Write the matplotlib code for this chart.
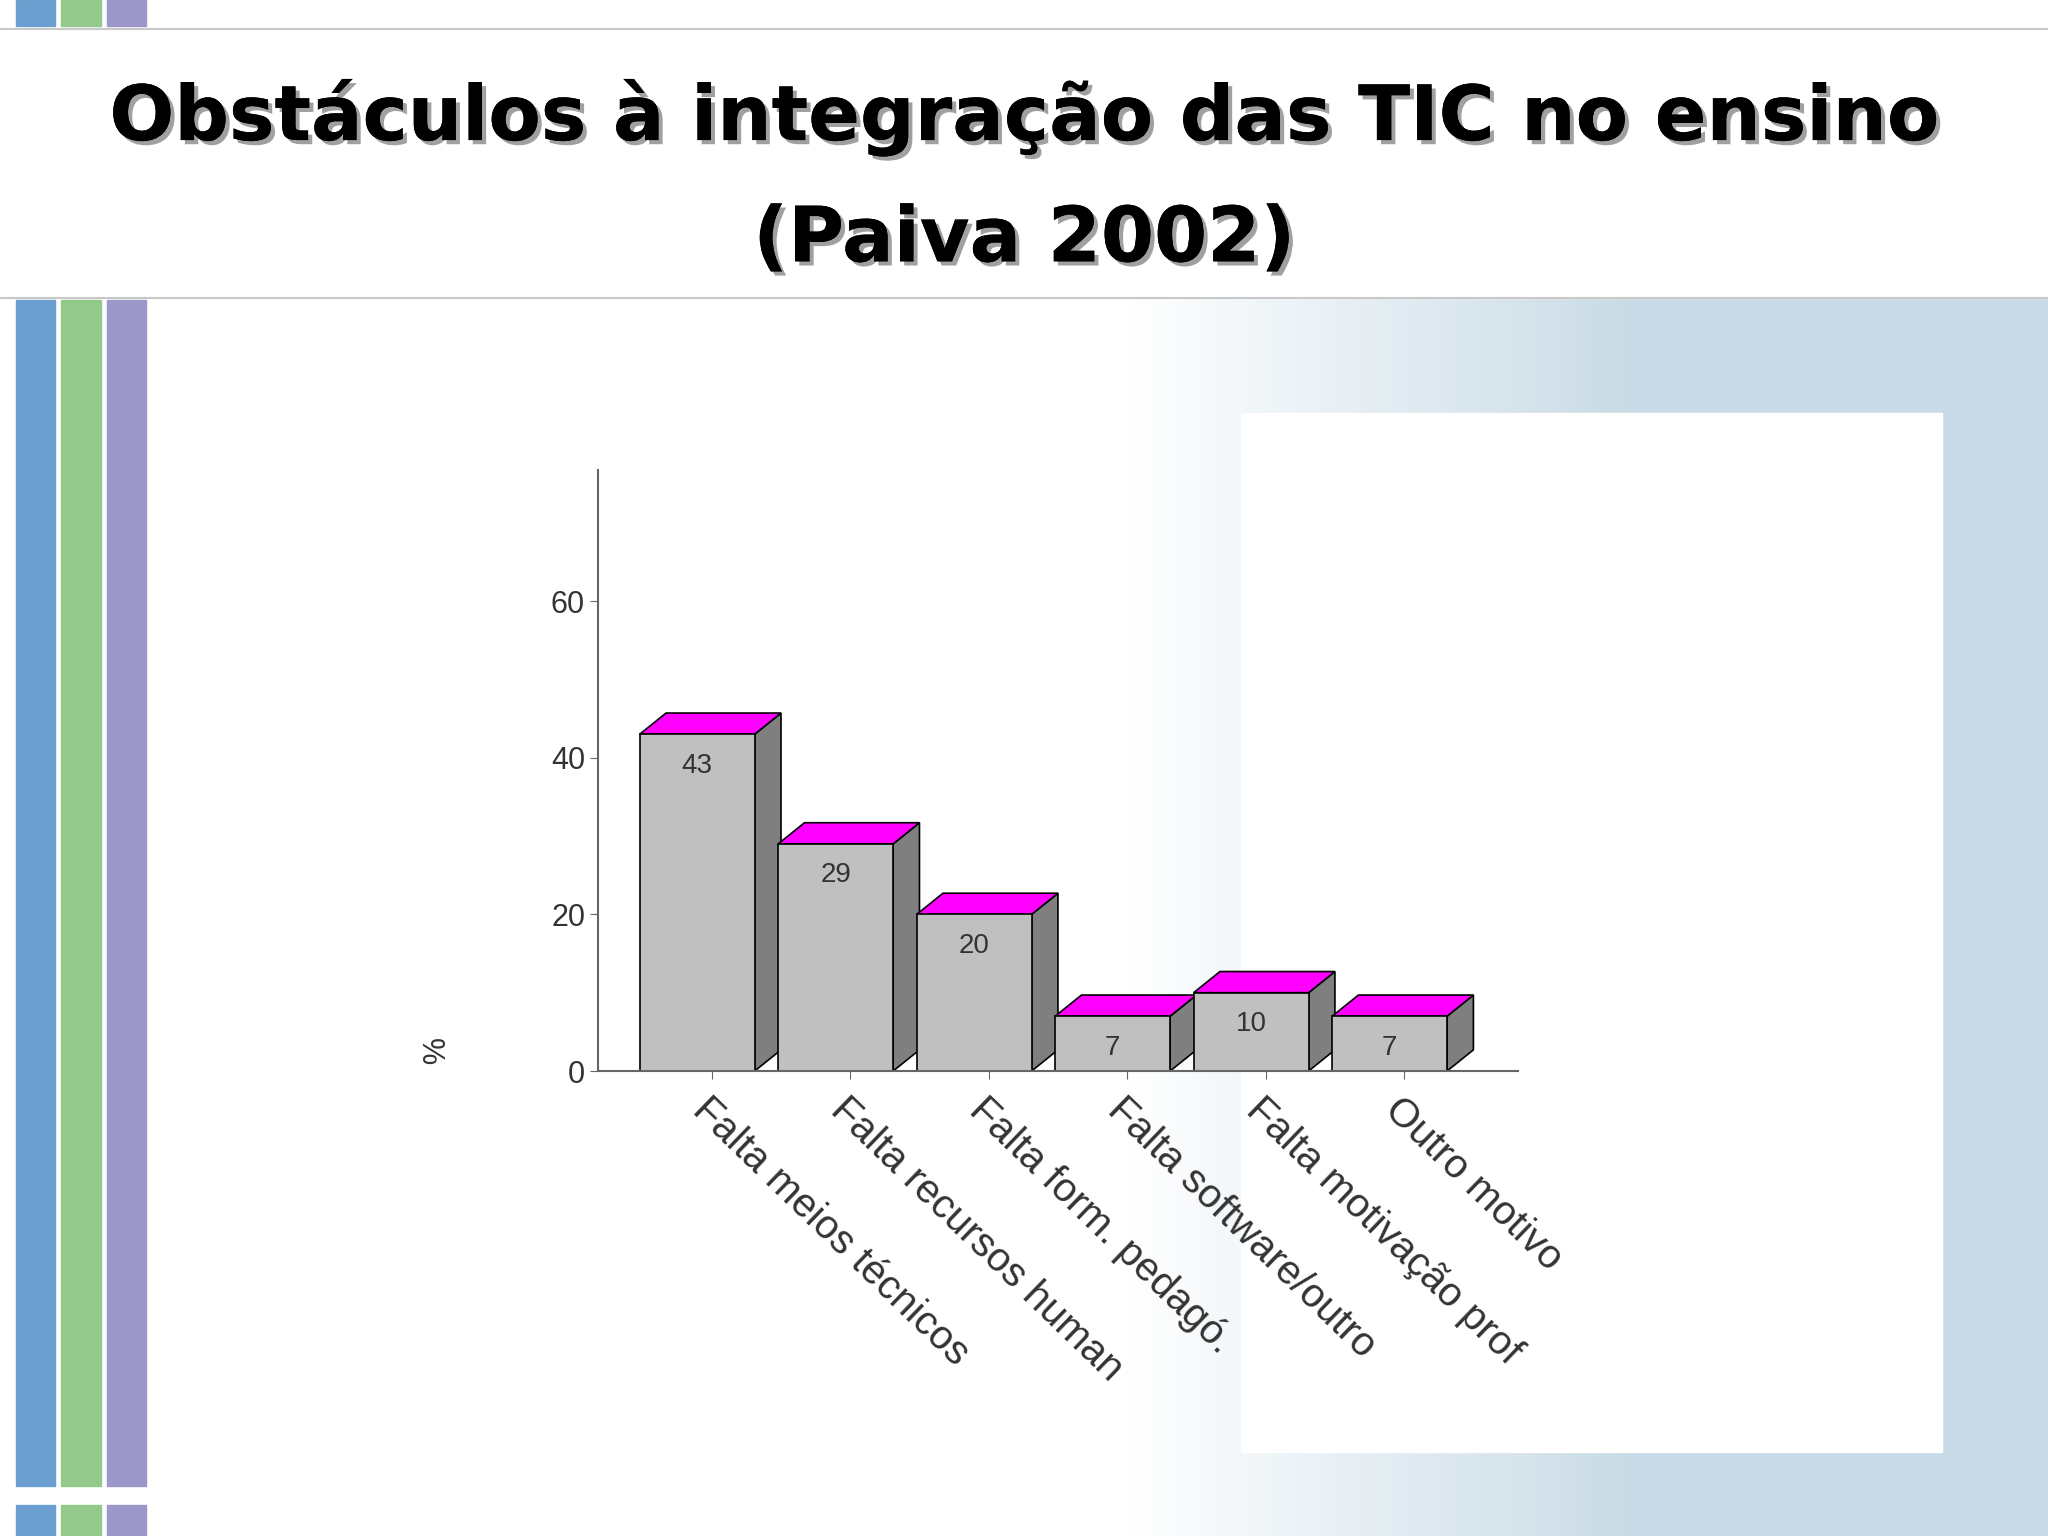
import matplotlib
matplotlib.use("Agg")
import matplotlib.pyplot as plt
from matplotlib.patches import Rectangle, Polygon
from matplotlib.colors import LinearSegmentedColormap
import matplotlib.patheffects as pe
import numpy as np

categories = ["Falta meios técnicos", "Falta recursos human", "Falta form. pedagó.",
              "Falta software/outro", "Falta motivação prof", "Outro motivo"]
values = [43, 29, 20, 7, 10, 7]
yticks = [0, 20, 40, 60]

W, H = 1568, 1176  # layout measured on the reference at this scale
fig = plt.figure(figsize=(20.48, 15.36), dpi=100)
cfont = "Liberation Sans"

# slide background
bg = fig.add_axes([0, 0, 1, 1])
bg.set_xlim(0, W)
bg.set_ylim(H, 0)
bg.set_axis_off()
grad = np.linspace(0, 1, 300)
grad = np.clip((grad - 0.55) / 0.25, 0, 1)[None, :]
cm = LinearSegmentedColormap.from_list("bgc", ["#ffffff", "#c9dbe6"])
bg.imshow(grad, cmap=cm, extent=(0, W, 1176, 228), aspect="auto", zorder=0)
bg.add_patch(Rectangle((950, 316), 537, 796, color="white", zorder=1))
bg.add_patch(Rectangle((0, 0), W, 228, color="white", zorder=1))
for x0, c in [(12, "#6a9fd0"), (47, "#93c98b"), (82, "#9b98c9")]:
    bg.add_patch(Rectangle((x0, 230), 30, 908, color=c, zorder=2))
    bg.add_patch(Rectangle((x0, 0), 30, 20, color=c, zorder=2))
    bg.add_patch(Rectangle((x0, 1152), 30, 24, color=c, zorder=2))
bg.plot([0, W], [22, 22], color="#c8c8c8", lw=1.5, zorder=3)
bg.plot([0, W], [228, 228], color="#c8c8c8", lw=1.5, zorder=3)

shadow = [pe.withSimplePatchShadow(offset=(3, -3), shadow_rgbFace="#888888", alpha=0.8), pe.Normal()]
bg.text(784, 90, "Obstáculos à integração das TIC no ensino", ha="center", va="center",
        fontsize=55, fontweight="semibold", color="black", path_effects=shadow, zorder=5)
bg.text(784, 184, "(Paiva 2002)", ha="center", va="center",
        fontsize=55, fontweight="semibold", color="black", path_effects=shadow, zorder=5)

# chart
ax = fig.add_axes([458 / W, 1 - 820 / H, 704 / W, 460 / H])
ax.patch.set_alpha(0)
ax.set_xlim(0, 6.64)
ax.set_ylim(0, 76.7)
for s in ["top", "right"]:
    ax.spines[s].set_visible(False)
for s in ["left", "bottom"]:
    ax.spines[s].set_color("#666666")
    ax.spines[s].set_linewidth(1.5)

bw, dx, dy = 0.83, 0.19, 2.7
for i, v in enumerate(values):
    x0 = 0.30 + i * 1.0
    ax.add_patch(Polygon([(x0 + bw, 0), (x0 + bw + dx, dy), (x0 + bw + dx, v + dy), (x0 + bw, v)],
                         facecolor="#7f7f7f", edgecolor="black", lw=1.2))
    ax.add_patch(Polygon([(x0, v), (x0 + dx, v + dy), (x0 + bw + dx, v + dy), (x0 + bw, v)],
                         facecolor="#ff00ff", edgecolor="black", lw=1.2))
    ax.add_patch(Rectangle((x0, 0), bw, v, facecolor="#c0c0c0", edgecolor="black", lw=1.2))
    ax.text(x0 + bw / 2, v - 4, str(v), ha="center", va="center", fontsize=20,
            color="#333333", family=cfont)

ax.set_yticks(yticks)
ax.set_xticks([0.82 + i for i in range(len(categories))])
ax.set_xticklabels(categories, rotation=-44, ha="left", va="top", rotation_mode="anchor",
                   fontsize=29, color="#333333", family=cfont)
for lab in ax.get_yticklabels():
    lab.set_family(cfont)
ax.tick_params(axis="y", labelsize=22, labelcolor="#333333", color="#666666", length=6)
ax.tick_params(axis="x", color="#666666", length=6, pad=8)
fig.text(328 / W, 1 - 805 / H, "%", fontsize=22, color="#333333", rotation=-90,
         ha="center", va="center", family=cfont)

fig.savefig("out.png", dpi=100)
